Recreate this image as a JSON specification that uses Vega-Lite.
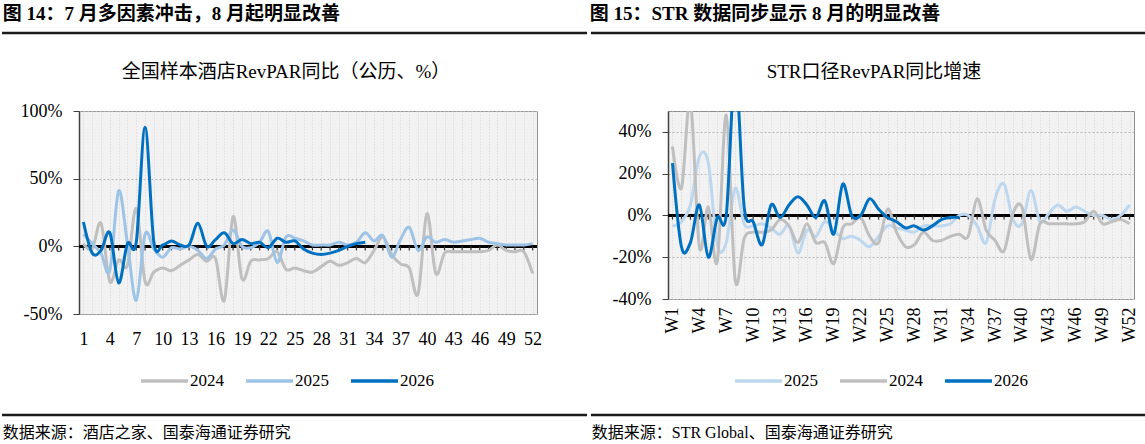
{
  "$schema": "https://vega.github.io/schema/vega-lite/v6.json",
  "background": "white",
  "padding": {"left": 0, "top": 4, "right": 0, "bottom": 0},
  "spacing": 23,
  "config": {
    "view": {"stroke": null},
    "font": "Liberation Serif, Noto Sans CJK SC",
    "axis": {"labelFont": "Liberation Serif", "labelFontSize": 18, "labelColor": "#000", "title": null},
    "legend": {
      "orient": "none", "direction": "horizontal", "title": null, "padding": 0,
      "symbolType": "M-3.7,0H1", "symbolSize": 400, "symbolStrokeWidth": 3.5,
      "labelFont": "Liberation Serif", "labelFontSize": 17, "labelColor": "#000",
      "labelOffset": 0, "columnPadding": 15
    },
    "title": {"font": "Liberation Serif, Noto Sans CJK SC", "color": "#000"}
  },
  "vconcat": [
    {
      "spacing": 0,
      "hconcat": [
        {
          "width": 585, "height": 6,
          "title": {"text": "图 14：7 月多因素冲击，8 月起明显改善", "anchor": "start", "fontSize": 19, "fontWeight": "bold", "offset": 8, "dx": 2},
          "data": {"values": [{}]},
          "mark": {"type": "rule", "strokeWidth": 2.5, "color": "#1a1a1a"},
          "encoding": {"y": {"datum": 1, "type": "quantitative", "scale": {"domain": [0, 1]}, "axis": null}}
        },
        {
          "width": 560, "height": 6,
          "title": {"text": "图 15：STR 数据同步显示 8 月的明显改善", "anchor": "start", "fontSize": 19, "fontWeight": "bold", "offset": 8, "dx": 0},
          "data": {"values": [{}]},
          "mark": {"type": "rule", "strokeWidth": 2.5, "color": "#1a1a1a"},
          "encoding": {"y": {"datum": 1, "type": "quantitative", "scale": {"domain": [0, 1]}, "axis": null}}
        }
      ]
    },
    {
      "spacing": 0,
      "hconcat": [
        {
          "width": 1, "height": 1,
          "data": {"values": []},
          "mark": "point"
        },
        {
          "spacing": 64,
          "hconcat": [
            {
              "width": 458, "height": 203,
              "view": {"stroke": "#8f8f8f", "fill": "#f2f2f2"},
              "title": {"text": "全国样本酒店RevPAR同比（公历、%）", "fontSize": 19, "fontWeight": "normal", "offset": 20, "dx": -22},
              "data": {"values": [
                {"w": 1, "a": 2, "b": 9, "c": 18},
                {"w": 2, "a": -2, "b": 2, "c": -5},
                {"w": 3, "a": 17, "b": -5, "c": -3},
                {"w": 4, "a": -26, "b": -18, "c": 10},
                {"w": 5, "a": -10, "b": 41, "c": -27},
                {"w": 6, "a": -14, "b": 2, "c": 2},
                {"w": 7, "a": 28, "b": -40, "c": 3},
                {"w": 8, "a": -26, "b": 9, "c": 88},
                {"w": 9, "a": -19, "b": -2, "c": 3},
                {"w": 10, "a": -16, "b": -8, "c": 1},
                {"w": 11, "a": -18, "b": -1, "c": 4},
                {"w": 12, "a": -14, "b": -2, "c": 1},
                {"w": 13, "a": -10, "b": 0, "c": 1},
                {"w": 14, "a": -6, "b": -3, "c": 17},
                {"w": 15, "a": -11, "b": -9, "c": 0},
                {"w": 16, "a": -9, "b": -2, "c": 5},
                {"w": 17, "a": -40, "b": 1, "c": 10},
                {"w": 18, "a": 22, "b": 12, "c": 2},
                {"w": 19, "a": -24, "b": 0, "c": 5},
                {"w": 20, "a": -11, "b": -1, "c": 2},
                {"w": 21, "a": -10, "b": 3, "c": 3},
                {"w": 22, "a": -9, "b": 11, "c": -1},
                {"w": 23, "a": -4, "b": -12, "c": 6},
                {"w": 24, "a": -17, "b": 7, "c": 3},
                {"w": 25, "a": -16, "b": 6, "c": 4},
                {"w": 26, "a": -18, "b": 4, "c": -2},
                {"w": 27, "a": -19, "b": 1, "c": -5},
                {"w": 28, "a": -15, "b": 1, "c": -6},
                {"w": 29, "a": -11, "b": 1, "c": -5},
                {"w": 30, "a": -14, "b": 3, "c": -3},
                {"w": 31, "a": -12, "b": 1, "c": 0},
                {"w": 32, "a": -9, "b": 3, "c": 2},
                {"w": 33, "a": -12, "b": 10, "c": 3},
                {"w": 34, "a": -3, "b": 4},
                {"w": 35, "a": 7, "b": 8},
                {"w": 36, "a": -6, "b": -8},
                {"w": 37, "a": -13, "b": 5},
                {"w": 38, "a": -16, "b": 14},
                {"w": 39, "a": -35, "b": -3},
                {"w": 40, "a": 24, "b": 7},
                {"w": 41, "a": -20, "b": 3},
                {"w": 42, "a": -5, "b": 5},
                {"w": 43, "a": -4, "b": 3},
                {"w": 44, "a": -4, "b": 4},
                {"w": 45, "a": -4, "b": 5},
                {"w": 46, "a": -4, "b": 6},
                {"w": 47, "a": -3, "b": 3},
                {"w": 48, "a": 1, "b": 2},
                {"w": 49, "a": -3, "b": 1},
                {"w": 50, "a": -4, "b": 1},
                {"w": 51, "a": -4, "b": 1},
                {"w": 52, "a": -20, "b": 2}
              ]},
              "layer": [
                {
                  "mark": {"type": "rule", "color": "#000", "strokeWidth": 2},
                  "encoding": {
                    "y": {"datum": 0, "type": "quantitative", "scale": {"domain": [-50, 100], "nice": false},
                      "axis": {"values": [-50, 0, 50, 100], "labelExpr": "datum.value + '%'", "grid": true, "gridDash": [2, 2], "gridColor": "#b8b8b8",
                        "domainColor": "#404040", "domainWidth": 1.5, "tickColor": "#404040", "tickSize": 6, "labelPadding": 11, "minExtent": 75, "maxExtent": 75}}
                  }
                },
                {
                  "mark": {"type": "rule", "color": "#333", "strokeWidth": 1.2},
                  "encoding": {
                    "x": {"field": "w", "type": "ordinal", "scale": {"type": "point", "padding": 0.5},
                      "axis": {"labelAngle": 0, "labelExpr": "datum.value % 3 == 1 ? datum.label : ''", "labelOverlap": false, "labelPadding": 16,
                        "ticks": false, "domain": false, "grid": true, "gridColor": "#d2d2d2", "gridDash": [1, 2]}},
                    "y": {"datum": 0, "type": "quantitative"},
                    "y2": {"datum": -3}
                  }
                },
                {
                  "mark": {"type": "line", "interpolate": "cardinal", "strokeWidth": 3},
                  "encoding": {
                    "x": {"field": "w", "type": "ordinal"},
                    "y": {"field": "a", "type": "quantitative"},
                    "color": {"datum": "2024", "type": "nominal",
                      "scale": {"domain": ["2024", "2025", "2026"], "range": ["#bfbfbf", "#9dc3e6", "#0070c0"]},
                      "legend": {"legendX": 87, "legendY": 258}}
                  }
                },
                {
                  "mark": {"type": "line", "interpolate": "cardinal", "strokeWidth": 3},
                  "encoding": {
                    "x": {"field": "w", "type": "ordinal"},
                    "y": {"field": "b", "type": "quantitative"},
                    "color": {"datum": "2025", "type": "nominal"}
                  }
                },
                {
                  "mark": {"type": "line", "interpolate": "cardinal", "strokeWidth": 3},
                  "encoding": {
                    "x": {"field": "w", "type": "ordinal"},
                    "y": {"field": "c", "type": "quantitative"},
                    "color": {"datum": "2026", "type": "nominal"}
                  }
                }
              ]
            },
            {
              "width": 466, "height": 188,
              "view": {"stroke": "#8f8f8f", "fill": "#f2f2f2"},
              "title": {"text": "STR口径RevPAR同比增速", "fontSize": 19, "fontWeight": "normal", "offset": 29, "dx": -27},
              "data": {"values": [
                {"w": 1, "a": 33, "b": -5, "c": 25},
                {"w": 2, "a": 13, "b": -3, "c": -15},
                {"w": 3, "a": 55, "b": 5, "c": -13},
                {"w": 4, "a": -15, "b": 28, "c": 5},
                {"w": 5, "a": 4, "b": 25, "c": -20},
                {"w": 6, "a": -22, "b": -14, "c": -1},
                {"w": 7, "a": 48, "b": -13, "c": 0},
                {"w": 8, "a": -31, "b": 13, "c": 70},
                {"w": 9, "a": -11, "b": -4, "c": 4},
                {"w": 10, "a": -8, "b": -5, "c": -3},
                {"w": 11, "a": -8, "b": -4, "c": -14},
                {"w": 12, "a": -7, "b": -6, "c": 5},
                {"w": 13, "a": -2, "b": -9, "c": -1},
                {"w": 14, "a": -5, "b": -5, "c": 5},
                {"w": 15, "a": -13, "b": -18, "c": 9},
                {"w": 16, "a": -4, "b": -7, "c": 5},
                {"w": 17, "a": -13, "b": -10, "c": -1},
                {"w": 18, "a": -13, "b": -3, "c": 7},
                {"w": 19, "a": -23, "b": -7, "c": -9},
                {"w": 20, "a": -6, "b": -11, "c": 15},
                {"w": 21, "a": -4, "b": -10, "c": 0},
                {"w": 22, "a": -1, "b": -12, "c": 0},
                {"w": 23, "a": -10, "b": -15, "c": 8},
                {"w": 24, "a": -13, "b": -10, "c": 3},
                {"w": 25, "a": 3, "b": -5, "c": -1},
                {"w": 26, "a": -8, "b": -6, "c": -3},
                {"w": 27, "a": -15, "b": -7, "c": -6},
                {"w": 28, "a": -14, "b": -8, "c": -5},
                {"w": 29, "a": -8, "b": -5, "c": -7},
                {"w": 30, "a": -12, "b": -5, "c": -5},
                {"w": 31, "a": -12, "b": -5, "c": -2},
                {"w": 32, "a": -10, "b": -4, "c": -1},
                {"w": 33, "a": -9, "b": 0, "c": -1},
                {"w": 34, "a": -10, "b": 0},
                {"w": 35, "a": 8, "b": -5},
                {"w": 36, "a": -7, "b": -13},
                {"w": 37, "a": -12, "b": 8},
                {"w": 38, "a": -17, "b": 15},
                {"w": 39, "a": 1, "b": -2},
                {"w": 40, "a": 4, "b": -4},
                {"w": 41, "a": -21, "b": 12},
                {"w": 42, "a": -4, "b": -3},
                {"w": 43, "a": -4, "b": 1},
                {"w": 44, "a": -4, "b": 5},
                {"w": 45, "a": -4, "b": 2},
                {"w": 46, "a": -4, "b": 4},
                {"w": 47, "a": -3, "b": 2},
                {"w": 48, "a": 2, "b": 0},
                {"w": 49, "a": -4, "b": 0},
                {"w": 50, "a": -3, "b": -2},
                {"w": 51, "a": -2, "b": 0},
                {"w": 52, "a": -4, "b": 5}
              ]},
              "layer": [
                {
                  "mark": {"type": "rule", "color": "#000", "strokeWidth": 2},
                  "encoding": {
                    "y": {"datum": 0, "type": "quantitative", "scale": {"domain": [-40, 50], "nice": false},
                      "axis": {"values": [-40, -20, 0, 20, 40], "labelExpr": "datum.value + '%'", "grid": true, "gridDash": [2, 2], "gridColor": "#b8b8b8",
                        "domainColor": "#404040", "domainWidth": 1.5, "tickColor": "#404040", "tickSize": 6, "labelPadding": 11, "minExtent": 60, "maxExtent": 60}}
                  }
                },
                {
                  "mark": {"type": "rule", "color": "#333", "strokeWidth": 1.2},
                  "encoding": {
                    "x": {"field": "w", "type": "ordinal", "scale": {"type": "point", "padding": 0.5},
                      "axis": {"labelAngle": 270, "labelExpr": "datum.value % 3 == 1 ? 'W' + datum.label : ''", "labelOverlap": false, "labelPadding": 8,
                        "ticks": false, "domain": false, "grid": true, "gridColor": "#d2d2d2", "gridDash": [1, 2]}},
                    "y": {"datum": 0, "type": "quantitative"},
                    "y2": {"datum": -2}
                  }
                },
                {
                  "mark": {"type": "line", "interpolate": "cardinal", "strokeWidth": 3, "clip": true},
                  "encoding": {
                    "x": {"field": "w", "type": "ordinal"},
                    "y": {"field": "b", "type": "quantitative"},
                    "color": {"datum": "2025", "type": "nominal",
                      "scale": {"domain": ["2025", "2024", "2026"], "range": ["#bdd7ee", "#bfbfbf", "#0070c0"]},
                      "legend": {"legendX": 92, "legendY": 258}}
                  }
                },
                {
                  "mark": {"type": "line", "interpolate": "cardinal", "strokeWidth": 3, "clip": true},
                  "encoding": {
                    "x": {"field": "w", "type": "ordinal"},
                    "y": {"field": "a", "type": "quantitative"},
                    "color": {"datum": "2024", "type": "nominal"}
                  }
                },
                {
                  "mark": {"type": "line", "interpolate": "cardinal", "strokeWidth": 3, "clip": true},
                  "encoding": {
                    "x": {"field": "w", "type": "ordinal"},
                    "y": {"field": "c", "type": "quantitative"},
                    "color": {"datum": "2026", "type": "nominal"}
                  }
                }
              ]
            }
          ],
          "resolve": {"scale": {"color": "independent", "x": "independent", "y": "independent"}}
        }
      ],
      "resolve": {"scale": {"color": "independent", "x": "independent", "y": "independent"}}
    },
    {
      "spacing": 0,
      "hconcat": [
        {
          "width": 585, "height": 1,
          "title": {"text": "数据来源：酒店之家、国泰海通证券研究", "orient": "bottom", "anchor": "start", "fontSize": 16, "fontWeight": "normal", "offset": 9, "dx": 2},
          "data": {"values": [{}]},
          "mark": {"type": "rule", "strokeWidth": 2.5, "color": "#1a1a1a"},
          "encoding": {"y": {"datum": 1, "type": "quantitative", "scale": {"domain": [0, 1]}, "axis": null}}
        },
        {
          "width": 560, "height": 1,
          "title": {"text": "数据来源：STR Global、国泰海通证券研究", "orient": "bottom", "anchor": "start", "fontSize": 16, "fontWeight": "normal", "offset": 9, "dx": 2},
          "data": {"values": [{}]},
          "mark": {"type": "rule", "strokeWidth": 2.5, "color": "#1a1a1a"},
          "encoding": {"y": {"datum": 1, "type": "quantitative", "scale": {"domain": [0, 1]}, "axis": null}}
        }
      ]
    }
  ]
}
